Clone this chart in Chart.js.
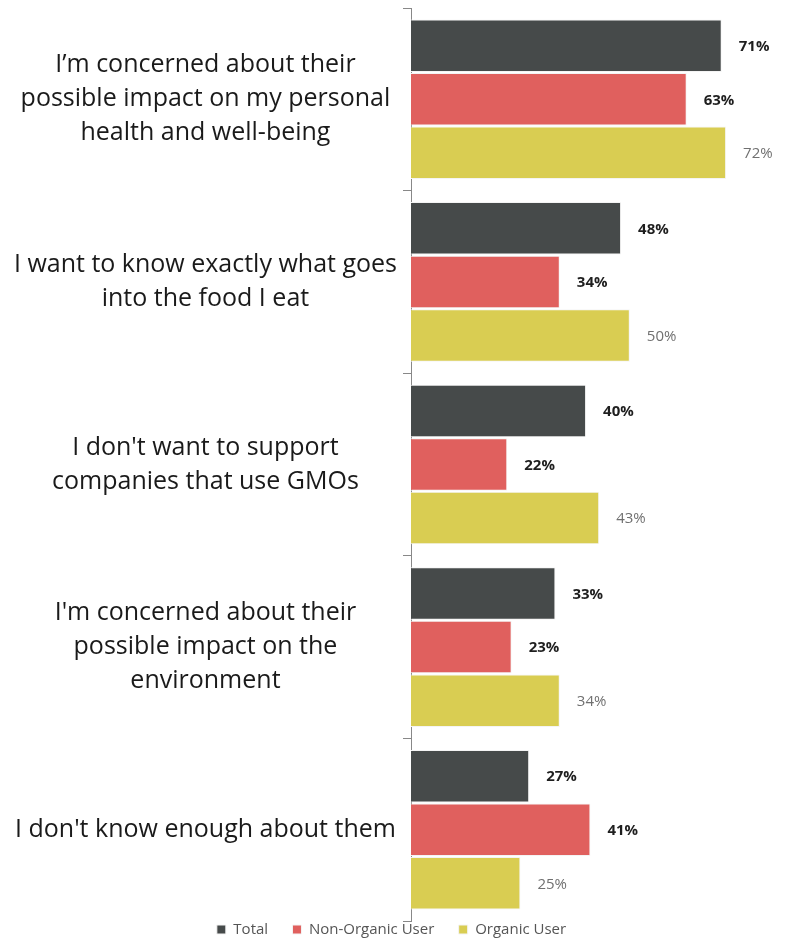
<!DOCTYPE html>
<html>
<head>
<meta charset="utf-8">
<script src="https://cdn.jsdelivr.net/npm/chart.js@4"></script>
<style>
  html, body { margin:0; padding:0; background:#fff; }
  #wrap { width:785px; height:941px; }
</style>
</head>
<body>
<div id="wrap"><canvas id="gmoChart"></canvas></div>
<script>
const categories = [
    ['I\u2019m concerned about their', 'possible impact on my personal', 'health and well-being'],
    ['I want to know exactly what goes', 'into the food I eat'],
    ['I don\'t want to support', 'companies that use GMOs'],
    ['I\'m concerned about their', 'possible impact on the', 'environment'],
    ['I don\'t know enough about them']
];
const totalValues = [71, 48, 40, 33, 27];
const nonOrganicValues = [63, 34, 22, 23, 41];
const organicValues = [72, 50, 43, 34, 25];
const seriesNames = ['Total', 'Non-Organic User', 'Organic User'];

const fontFamily = '"Open Sans", "DejaVu Sans", sans-serif';

// value labels to the right of each bar
const valueLabels = {
    id: 'valueLabels',
    afterDatasetsDraw(chart) {
        const ctx = chart.ctx;
        ctx.save();
        ctx.textBaseline = 'middle';
        ctx.textAlign = 'left';
        chart.data.datasets.forEach((ds, i) => {
            const meta = chart.getDatasetMeta(i);
            const isOrganic = i === 2;
            ctx.font = (isOrganic ? '' : 'bold ') + '15px ' + fontFamily;
            ctx.fillStyle = isOrganic ? '#707070' : '#1e1e1e';
            meta.data.forEach((bar, j) => {
                ctx.fillText(ds.data[j] + '%', bar.x + 17, bar.y + 1);
            });
        });
        ctx.restore();
    }
};

new Chart(document.getElementById('gmoChart'), {
    type: 'bar',
    data: {
        labels: categories,
        datasets: [
            {label: seriesNames[0], data: totalValues, backgroundColor: '#464a4a', borderColor: '#f4f4f4', borderWidth: 1},
            {label: seriesNames[1], data: nonOrganicValues, backgroundColor: '#e0605e', borderColor: '#f4f4f4', borderWidth: 1},
            {label: seriesNames[2], data: organicValues, backgroundColor: '#d9cd52', borderColor: '#f4f4f4', borderWidth: 1}
        ]
    },
    options: {
        indexAxis: 'y',
        responsive: true,
        maintainAspectRatio: false,
        animation: false,
        layout: {padding: {top: 8, right: 2, left: 0, bottom: -6}},
        datasets: {bar: {categoryPercentage: 0.88, barPercentage: 0.98}},
        scales: {
            x: {display: false, min: 0, max: 85},
            y: {
                afterFit(scale) { scale.width = 411; scale.paddingTop = 0; scale.paddingBottom = 0; },
                grid: {offset: true, drawOnChartArea: false, tickLength: 8, color: '#888', tickColor: '#888'},
                border: {display: true, color: '#888', width: 1},
                ticks: {
                    color: '#1a1a1a',
                    crossAlign: 'center',
                    padding: 6,
                    font: {family: fontFamily, size: 25, lineHeight: 1.36}
                }
            }
        },
        plugins: {
            legend: {
                position: 'bottom',
                labels: {
                    boxWidth: 9, boxHeight: 9, padding: 1,
                    color: '#555',
                    font: {family: fontFamily, size: 15, lineHeight: 1},
                    generateLabels(chart) {
                        const items = Chart.defaults.plugins.legend.labels.generateLabels(chart);
                        items.forEach((it, k) => { if (k < items.length - 1) it.text += '      '; });
                        return items;
                    }
                }
            },
            tooltip: {enabled: false}
        }
    },
    plugins: [valueLabels]
});
</script>
</body>
</html>
